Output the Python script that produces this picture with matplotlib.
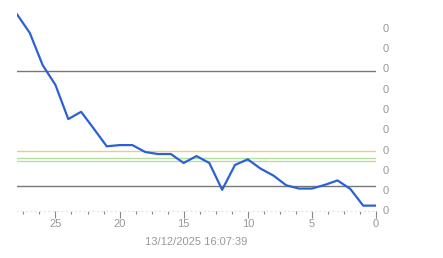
import matplotlib
matplotlib.use("Agg")
import matplotlib.pyplot as plt
from matplotlib.ticker import MultipleLocator, FormatStrFormatter

# values (x counts back from now)
xs = list(range(28, -1, -1))
values = [0.483, 0.437, 0.358, 0.309, 0.225, 0.243, 0.201, 0.158, 0.161, 0.161,
          0.144, 0.139, 0.139, 0.117, 0.134, 0.117, 0.051, 0.112, 0.126, 0.103,
          0.086, 0.062, 0.054, 0.054, 0.063, 0.074, 0.053, 0.012, 0.012]

# reference levels
gray_levels = [0.344, 0.060]
yellow_level = 0.147
green_levels = [0.129, 0.122]

stamp = "13/12/2025 16:07:39"

plt.rcParams['font.family'] = ['Liberation Sans', 'DejaVu Sans']

fig = plt.figure(figsize=(4.43, 2.58), dpi=100)
ax = fig.add_axes([17 / 443, 47.5 / 258, (376 - 17) / 443, (250 - 47.5) / 258])

for lv in gray_levels:
    ax.axhline(lv, color='#777777', lw=1.0, zorder=1)
ax.axhline(yellow_level, color='#e8cf7a', lw=1.0, zorder=1)
for lv in green_levels:
    ax.axhline(lv, color='#b5dea0', lw=1.0, zorder=1)

ax.plot(xs, values, color='#2b62d3', lw=1.6, zorder=3)

ax.set_xlim(28, 0)
ax.set_ylim(0, 0.4985)

ax.xaxis.set_major_locator(MultipleLocator(5))
ax.xaxis.set_minor_locator(MultipleLocator(1.25))
ax.yaxis.set_major_locator(MultipleLocator(0.05))
ax.yaxis.set_major_formatter(FormatStrFormatter('%.0f'))
ax.yaxis.tick_right()

ax.tick_params(axis='x', which='major', length=5, width=0.8, color='#888888',
               labelcolor='#999999', labelsize=8, pad=1)
ax.tick_params(axis='x', which='minor', length=2, width=0.8, color='#888888')
ax.tick_params(axis='y', length=0, labelcolor='#999999', labelsize=8, pad=5)

for s in ['top', 'left', 'right']:
    ax.spines[s].set_visible(False)
ax.spines['bottom'].set_color('#e4e4e4')
ax.spines['bottom'].set_linestyle((0, (1, 3)))
ax.spines['bottom'].set_linewidth(0.8)

ax.set_xlabel(stamp, color='#999999', fontsize=8, labelpad=6)

fig.savefig("out.png", dpi=100)
